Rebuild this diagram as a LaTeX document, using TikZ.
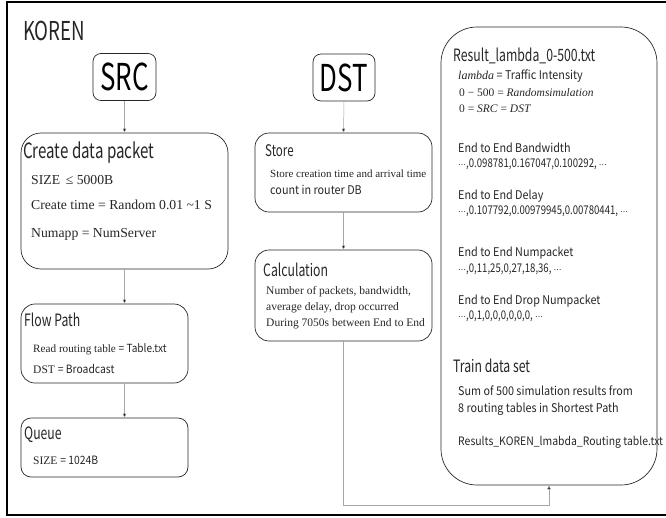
\documentclass[tikz,border=0pt]{standalone}
\usepackage{fontspec}
\setmainfont{Liberation Serif}
\newfontfamily\lab{Noto Sans CJK KR}[FakeStretch=0.9]
\newfontfamily\labv{Noto Sans CJK KR}[FakeStretch=0.8]
\newfontfamily\labh{Noto Sans CJK KR}[FakeStretch=0.72]
\newfontfamily\labn{Noto Sans CJK KR}[FakeStretch=0.7]
\newfontfamily\dv{DejaVu Sans}
\newcommand{\mydots}{{\dv\fontsize{8}{10}\selectfont ⋯}}
\usetikzlibrary{arrows.meta}
\begin{document}
\begin{tikzpicture}[x=1pt,y=-1pt,
  box/.style={draw=black!85,line width=0.7pt,inner sep=0pt},
  conn/.style={draw=black!35,line width=0.5pt,-{Triangle[length=4pt,width=3.5pt,fill=black]}},
  txt/.style={inner sep=0pt,anchor=base west,text=black!85},
  ser/.style={txt,font=\fontsize{11.5}{14}\selectfont},
  sans/.style={txt,font=\lab\fontsize{12}{14}\selectfont},
  vals/.style={txt,font=\labv\fontsize{12}{14}\selectfont},
  head/.style={txt,font=\labh\fontsize{17}{20}\selectfont}]
\useasboundingbox (0,0) rectangle (666,517);
\draw[line width=1.1pt] (7,2) rectangle (672,515);
\node[txt,font=\labh\fontsize{26}{28}\selectfont] (koren) at (23,40) {KOREN};
% boxes
\node[box,rounded corners=8pt,minimum width=63pt,minimum height=47pt] (src) at (124.5,77) {\labn\fontsize{37}{40}\selectfont SRC};
\node[box,rounded corners=8pt,minimum width=62pt,minimum height=47pt] (dst) at (344,77.5) {\labn\fontsize{37}{40}\selectfont DST};
\node[box,rounded corners=20pt,minimum width=207pt,minimum height=136pt] (create) at (124.5,201) {};
\node[box,rounded corners=14pt,minimum width=167pt,minimum height=79pt] (flow) at (104.5,343.5) {};
\node[box,rounded corners=10pt,minimum width=167pt,minimum height=59pt] (queue) at (104.5,447.5) {};
\node[box,rounded corners=14pt,minimum width=177pt,minimum height=79pt] (store) at (343.5,172.5) {};
\node[box,rounded corners=14pt,minimum width=177pt,minimum height=91pt] (calc) at (343.5,295.5) {};
\node[box,rounded corners=36pt,minimum width=216pt,minimum height=458pt] (big) at (549,256) {};
\coordinate (turn) at (549,505);
% connectors
\draw[conn] (src.south) -- (create.north);
\draw[conn] (create.south) -- (create.south |- flow.north);
\draw[conn] (create.south |- flow.south) -- (create.south |- queue.north);
\draw[conn] (dst.south) -- (store.north);
\draw[conn] (store.south) -- (calc.north);
\draw[conn] (calc.south) |- (turn) -- (big.south);
% SRC texts
\node[txt,font=\labh\fontsize{21}{24}\selectfont] (t1) at (23,158) {Create data packet};
\node[txt,font=\fontsize{13.7}{16}\selectfont] (t2) at (31,184) {SIZE \,≤ 5000B};
\node[txt,font=\fontsize{13.7}{16}\selectfont] (t3) at (31,209) {Create time = Random 0.01 \textasciitilde1 S};
\node[txt,font=\fontsize{13.7}{16}\selectfont] (t4) at (31,237) {Numapp = NumServer};
\node[head] (t5) at (24,326) {Flow Path};
\node[ser,font=\fontsize{11.2}{14}\selectfont] (t6) at (33,352) {Read routing table {\lab = Table.txt}};
\node[ser] (t7) at (33,373) {DST {\lab = Broadcast}};
\node[head] (t8) at (24,439) {Queue};
\node[ser] (t9) at (33,464) {SIZE {\lab = 1024B}};
% DST texts
\node[txt,font=\labh\fontsize{16}{18}\selectfont] (t10) at (265,156) {Store};
\node[ser,font=\fontsize{11}{14}\selectfont] (t11) at (270,177) {Store creation time and arrival time};
\node[sans] (t12) at (270,194) {count in router DB};
\node[head] (t13) at (263,276) {Calculation};
\node[ser] (t14) at (266,294) {Number of packets, bandwidth,};
\node[ser] (t15) at (266,310) {average delay, drop occurred};
\node[ser] (t16) at (266,326) {During 7050s between End to End};
% result texts
\node[head] (r1) at (453,61) {Result\_lambda\_0-500.txt};
\node[sans] (r2) at (458,79) {{\rmfamily\itshape lambda} = Traffic Intensity};
\node[ser] (r3) at (459,96) {0 − 500 = \textit{Randomsimulation}};
\node[ser] (r4) at (459,112) {0 = \textit{SRC} = \textit{DST}};
\node[sans] (r5) at (458,152) {End to End Bandwidth};
\node[vals] (r6) at (458,167) {\mydots,0.098781,0.167047,0.100292, \mydots};
\node[sans] (r7) at (458,199) {End to End Delay};
\node[vals] (r8) at (458,214) {\mydots,0.107792,0.00979945,0.00780441, \mydots};
\node[sans] (r9) at (458,256) {End to End Numpacket};
\node[vals] (r10) at (458,272) {\mydots,0,11,25,0,27,18,36, \mydots};
\node[sans] (r11) at (458,304) {End to End Drop Numpacket};
\node[vals] (r12) at (458,319) {\mydots,0,1,0,0,0,0,0,0, \mydots};
\node[head] (r13) at (453,372) {Train data set};
\node[sans] (r14) at (458,395) {Sum of 500 simulation results from};
\node[sans] (r15) at (458,412) {8 routing tables in Shortest Path};
\node[sans,font=\lab\fontsize{11.6}{14}\selectfont] (r16) at (458,445) {Results\_KOREN\_lmabda\_Routing table.txt};
\end{tikzpicture}
\end{document}
